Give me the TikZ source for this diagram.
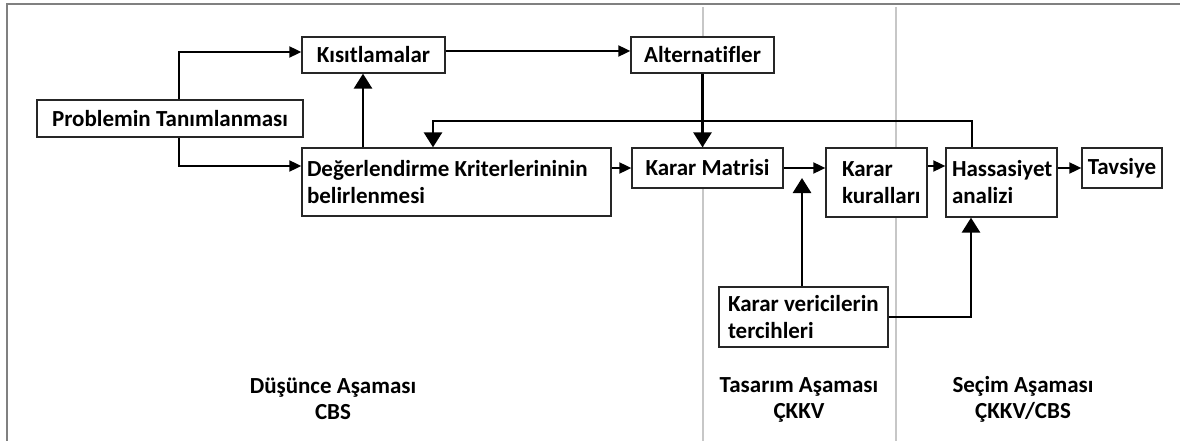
\documentclass[tikz,border=0pt]{standalone}
\usepackage{fontspec}
\setmainfont{Carlito}[Ligatures=NoCommon]
\usetikzlibrary{arrows.meta}
\begin{document}
\begin{tikzpicture}[x=1pt,y=-1pt,
  box/.style={draw=black!85,fill=white,line width=1.3pt,inner sep=0pt,
    font=\fontsize{23}{27}\selectfont\bfseries},
  phase/.style={align=center,font=\fontsize{23}{26}\selectfont\bfseries},
  lane/.style={draw=black!22,line width=1.8pt},
  frame/.style={draw=black!50,line width=1.8pt},
  thin/.style={line width=1.8pt,-{Triangle[length=12pt,width=11pt]}},
  thick/.style={line width=2.8pt,-{Triangle[length=15pt,width=18pt]}}]
\useasboundingbox (0,0) rectangle (1180,441);
% page frame and phase separators
\draw[frame] (7,441) -- (7,4) -- (1180,4);
\draw[lane] (703,7) -- (703,441);
\draw[lane] (896,7) -- (896,441);
% process boxes
\node[box,minimum width=266pt,minimum height=37pt,align=center] (prob) at (170,118.5) {Problemin Tanımlanması};
\node[box,minimum width=143pt,minimum height=36pt,align=center] (kis) at (373.5,55) {Kısıtlamalar};
\node[box,minimum width=143pt,minimum height=36pt,align=center] (alt) at (702.5,55) {Alternatifler};
\node[box,minimum width=309pt,minimum height=68pt,text width=299pt,inner xsep=5pt,align=flush left] (deg) at (456.5,182) {Değerlendirme Kriterlerininin\\belirlenmesi};
\node[box,minimum width=151pt,minimum height=40pt,align=center] (km) at (707.5,168) {Karar Matrisi};
\node[box,minimum width=101pt,minimum height=69pt,text width=69pt,inner xsep=16pt,align=flush left] (kk) at (876.5,182.5) {Karar\\kuralları};
\node[box,minimum width=111pt,minimum height=69pt,text width=99pt,inner xsep=6pt,align=flush left] (ha) at (1001.5,182.5) {Hassasiyet\\analizi};
\node[box,minimum width=80pt,minimum height=40pt,align=center] (tav) at (1122,168) {Tavsiye};
\node[box,minimum width=169pt,minimum height=60pt,text width=151pt,inner xsep=9pt,align=flush left] (kv) at (803.5,317) {Karar vericilerin\\tercihleri};
% phase captions
\node[phase] (p1) at (333,398.5) {Düşünce Aşaması\\CBS};
\node[phase] (p2) at (799,399.5) {Tasarım Aşaması\\ÇKKV};
\node[phase] (p3) at (1023,399.5) {Seçim Aşaması\\ÇKKV/CBS};
% routing points
\coordinate (pa) at (179,52);
\coordinate (pb) at (179,166);
\coordinate (dk) at (363,0);
\coordinate (ka) at (0,51);
\coordinate (fb1) at (972,121);
\coordinate (fb2) at (433,121);
\coordinate (up) at (802,178);
\coordinate (kh) at (971,317);
\coordinate (kr) at (0,166);
% connectors
\draw[thin] (pa |- prob.north) -- (pa) -- (pa -| kis.west);
\draw[thin] (pb |- prob.south) -- (pb) -- (pb -| deg.west);
\draw[thick] (dk |- deg.north) -- (dk |- kis.south);
\draw[thin] (kis.east |- ka) -- (alt.west |- ka);
\draw[thick] (alt.south) -- (alt.south |- km.north);
\draw[thick] (fb1 |- ha.north) -- (fb1) -- (fb2) -- (fb2 |- deg.north);
\draw[thin] (deg.east |- km.west) -- (km.west);
\draw[thin] (km.east) -- (km.east -| kk.west);
\draw[thick] (kv.north -| up) -- (up);
\draw[thick] (kv.east |- kh) -- (kh) -- (kh |- ha.south);
\draw[thin] (kk.east |- kr) -- (ha.west |- kr);
\draw[thin] (ha.east |- tav.west) -- (tav.west);
\end{tikzpicture}
\end{document}
